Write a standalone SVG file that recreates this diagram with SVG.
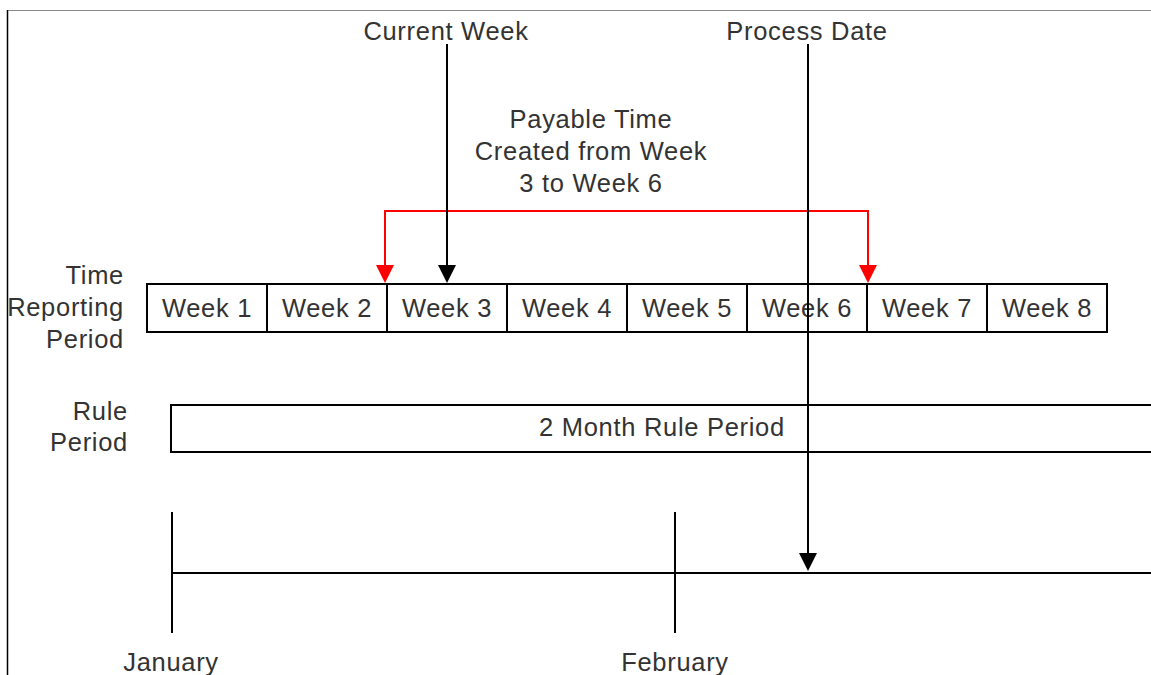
<svg xmlns="http://www.w3.org/2000/svg" width="1151" height="675" viewBox="0 0 1151 675">
<style>
text{font-family:"Liberation Sans",Arial,sans-serif;font-size:25.5px;letter-spacing:0.7px;fill:#333}
.c{text-anchor:middle}
.r{text-anchor:end}
.box{fill:#fff;stroke:#000;stroke-width:2}
.ln{stroke:#000;stroke-width:2;fill:none}
.red{stroke:#f00;stroke-width:2;fill:none}
</style>
<rect width="1151" height="675" fill="#fff"/>
<line x1="7" y1="10.5" x2="1151" y2="10.5" stroke="#888" stroke-width="1"/>
<line x1="7.5" y1="10" x2="7.5" y2="675" stroke="#000" stroke-width="1.5"/>
<g id="labels">
<text class="r" x="124" y="284">Time</text>
<text class="r" x="124" y="316">Reporting</text>
<text class="r" x="124" y="348">Period</text>
<text class="r" x="128" y="420">Rule</text>
<text class="r" x="128" y="451">Period</text>
<text class="c" x="446" y="40">Current Week</text>
<text class="c" x="807" y="40">Process Date</text>
<text class="c" x="591" y="128">Payable Time</text>
<text class="c" x="591" y="160">Created from Week</text>
<text class="c" x="591" y="192">3 to Week 6</text>
<text class="c" x="171" y="671">January</text>
<text class="c" x="675" y="671">February</text>
</g>
<g id="weeks">
<g id="week1"><rect class="box" x="147" y="284" width="120" height="48"/><text class="c" x="207" y="317">Week 1</text></g>
<g id="week2"><rect class="box" x="267" y="284" width="120" height="48"/><text class="c" x="327" y="317">Week 2</text></g>
<g id="week3"><rect class="box" x="387" y="284" width="120" height="48"/><text class="c" x="447" y="317">Week 3</text></g>
<g id="week4"><rect class="box" x="507" y="284" width="120" height="48"/><text class="c" x="567" y="317">Week 4</text></g>
<g id="week5"><rect class="box" x="627" y="284" width="120" height="48"/><text class="c" x="687" y="317">Week 5</text></g>
<g id="week6"><rect class="box" x="747" y="284" width="120" height="48"/><text class="c" x="807" y="317">Week 6</text></g>
<g id="week7"><rect class="box" x="867" y="284" width="120" height="48"/><text class="c" x="927" y="317">Week 7</text></g>
<g id="week8"><rect class="box" x="987" y="284" width="120" height="48"/><text class="c" x="1047" y="317">Week 8</text></g>
</g>
<g id="rule">
<path class="ln" d="M1152,405 L171,405 L171,452 L1152,452" fill="#fff"/>
<text class="c" x="662" y="436">2 Month Rule Period</text>
</g>
<g id="timeline">
<line class="ln" x1="172" y1="573" x2="1151" y2="573"/>
<line class="ln" x1="172" y1="512" x2="172" y2="633"/>
<line class="ln" x1="675" y1="512" x2="675" y2="633"/>
</g>
<g id="connectors">
<path class="red" d="M385,281 L385,211 L868,211 L868,281"/>
<path d="M376,265 L394,265 L385,283 Z" fill="#f00"/>
<path d="M859,265 L877,265 L868,283 Z" fill="#f00"/>
<line class="ln" x1="447" y1="44" x2="447" y2="270"/>
<path d="M438,265 L456,265 L447,283 Z" fill="#000"/>
<line class="ln" x1="808" y1="44" x2="808" y2="558"/>
<path d="M799,553 L817,553 L808,571 Z" fill="#000"/>
</g>
</svg>
